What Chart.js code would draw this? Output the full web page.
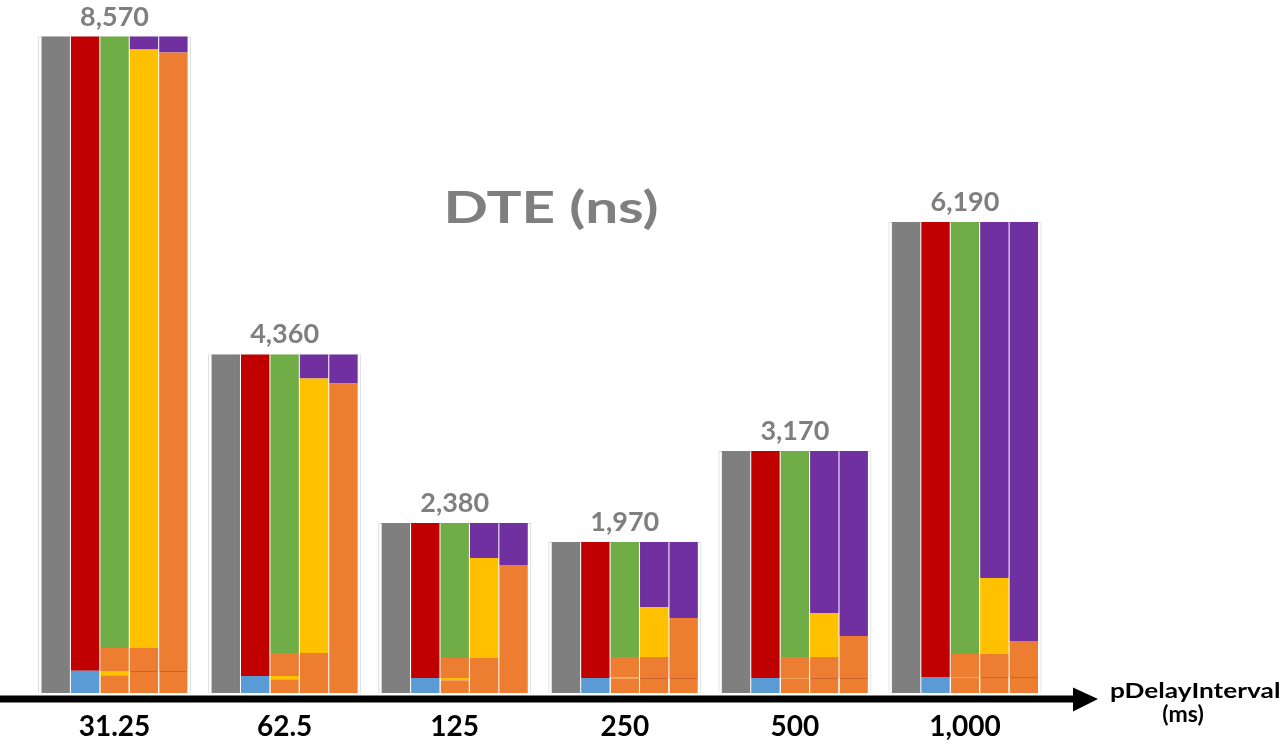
<!DOCTYPE html>
<html><head><meta charset="utf-8">
<script src="https://cdn.jsdelivr.net/npm/chart.js@4.4.1/dist/chart.umd.min.js"></script>
<style>html,body{margin:0;padding:0;background:#fff;overflow:hidden}</style>
</head><body>
<canvas id="c" width="1281" height="746"></canvas>
<script>
// ---- data (ns) ----
const categories   = ['31.25', '62.5', '125', '250', '500', '1,000'];
const totalLabels  = ['8,570', '4,360', '2,380', '1,970', '3,170', '6,190'];
const axisName     = ['pDelayInterval', '(ms)'];
const chartTitle   = 'DTE (ns)';

// column 1
const grayCol1       = [8570, 4420, 2220, 1970, 3160, 6150];
// column 2
const blueCol2       = [290, 222, 196, 196, 196, 209];
const redCol2        = [8280, 4198, 2024, 1774, 2964, 5941];
// column 3
const orangeLowCol3  = [235, 183, 170, 196, 196, 209];
const yellowLineCol3 = [52, 39, 26, 13, 0, 0];
const orangeMidCol3  = [300, 300, 261, 261, 274, 300];
const greenCol3      = [7983, 3898, 1763, 1500, 2690, 5641];
// column 4
const orangeLowCol4  = [287, 0, 0, 196, 196, 209];
const orangeMidCol4  = [300, 522, 457, 274, 274, 300];
const yellowCol4     = [7813, 3585, 1305, 653, 574, 992];
const purpleCol4     = [170, 313, 458, 847, 2116, 4649];
// column 5
const orangeLowCol5  = [287, 0, 0, 196, 196, 209];
const orangeUpCol5   = [8074, 4041, 1672, 783, 548, 470];
const purpleCol5     = [209, 379, 548, 991, 2416, 5471];

// ---- styles ----
const C = {gray:'#7f7f7f', red:'#c00000', blue:'#5b9bd5', green:'#70ad47',
           yellow:'#ffc000', purple:'#7030a0', orange:'#ed7d31'};
const BP = 0.965, CP = 0.865;
function ds(label, data, color, stack, extra) {
  return Object.assign({label, data, backgroundColor: color, stack,
    borderWidth: 0, barPercentage: BP, categoryPercentage: CP, order: 0}, extra || {});
}
const lineTop = (col) => ({borderColor: col, borderWidth: {top: 1, left: 0, right: 0, bottom: 0}});

const datasets = [
  ds('c1 gray', grayCol1, C.gray, 'c1'),
  ds('c2 blue', blueCol2, C.blue, 'c2'),
  ds('c2 red', redCol2, C.red, 'c2'),
  ds('c3 orange low', orangeLowCol3, C.orange, 'c3', lineTop('#f3a25e')),
  ds('c3 yellow line', yellowLineCol3, C.yellow, 'c3'),
  ds('c3 orange mid', orangeMidCol3, C.orange, 'c3'),
  ds('c3 green', greenCol3, C.green, 'c3'),
  ds('c4 orange low', orangeLowCol4, C.orange, 'c4', lineTop('#cf6330')),
  ds('c4 orange mid', orangeMidCol4, C.orange, 'c4'),
  ds('c4 yellow', yellowCol4, C.yellow, 'c4'),
  ds('c4 purple', purpleCol4, C.purple, 'c4'),
  ds('c5 orange low', orangeLowCol5, C.orange, 'c5', lineTop('#cf6330')),
  ds('c5 orange up', orangeUpCol5, C.orange, 'c5'),
  ds('c5 purple', purpleCol5, C.purple, 'c5'),
  // light frame around each group
  {label:'frame', data: grayCol1, stack:'frame', grouped:false, order: 1,
   backgroundColor:'rgba(0,0,0,0)', borderColor:'#dcdcdc', borderWidth:1,
   categoryPercentage: 0.9, barPercentage: 1}
];

const decor = {
  id: 'decor',
  afterDatasetsDraw(chart) {
    const {ctx, scales: {x, y}} = chart;
    ctx.save();
    ctx.fillStyle = '#7f7f7f';
    ctx.font = 'bold 27px Lato';
    ctx.textAlign = 'center';
    ctx.textBaseline = 'alphabetic';
    totalLabels.forEach((t, i) => {
      ctx.fillText(t, x.getPixelForValue(i), y.getPixelForValue(grayCol1[i]) - 11);
    });
    ctx.restore();
  },
  afterDraw(chart) {
    const {ctx, chartArea} = chart;
    const ay = chartArea.bottom + 6;
    ctx.save();
    // axis arrow
    ctx.fillStyle = '#000';
    ctx.fillRect(0, ay - 3.5, 1076, 7);
    ctx.beginPath();
    ctx.moveTo(1073, ay - 11.5);
    ctx.lineTo(1098, ay);
    ctx.lineTo(1073, ay + 12.5);
    ctx.closePath();
    ctx.fill();
    // axis name
    ctx.textBaseline = 'alphabetic';
    ctx.save();
    ctx.font = 'bold 21px Lato';
    ctx.translate(1110, 698);
    ctx.scale(1.25, 1);
    ctx.textAlign = 'left';
    ctx.fillText(axisName[0], 0, 0);
    ctx.restore();
    ctx.font = 'bold 23px Lato';
    ctx.textAlign = 'center';
    ctx.fillText(axisName[1], 1183, 722);
    // title
    ctx.fillStyle = '#7f7f7f';
    ctx.font = 'bold 43px Lato';
    ctx.translate(551, 223);
    ctx.scale(1.36, 1);
    ctx.textAlign = 'center';
    ctx.fillText(chartTitle, 0, 0);
    ctx.restore();
  }
};

new Chart(document.getElementById('c'), {
  type: 'bar',
  data: {labels: categories, datasets},
  plugins: [decor],
  options: {
    responsive: false,
    animation: false,
    layout: {padding: {left: 29.5, right: 231, top: 3.6, bottom: 2}},
    plugins: {legend: {display: false}, tooltip: {enabled: false}, title: {display: false}},
    font: {family: 'Lato'},
    scales: {
      x: {stacked: true, offset: true,
          afterFit(scale) { scale.height = 51; },
          grid: {display: false, drawTicks: false}, border: {display: false},
          ticks: {color: '#000', font: {family: 'Lato', size: 28, weight: 'bold'}, padding: 17}},
      y: {stacked: true, display: false, min: 0, max: 9000}
    }
  }
});
</script>
</body></html>
